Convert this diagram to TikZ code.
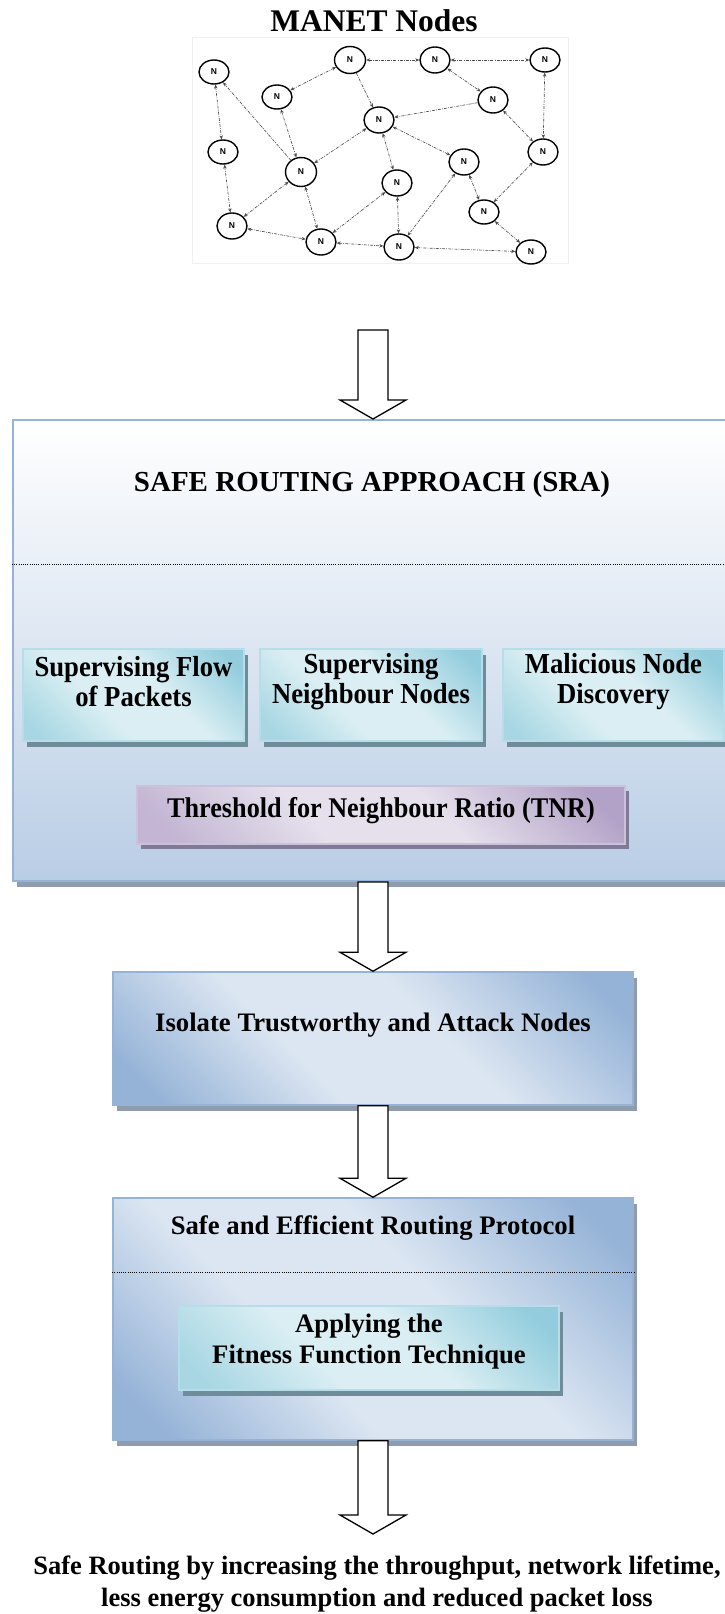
\documentclass[tikz,border=0pt]{standalone}
\usepackage{fontspec}
\setmainfont{Liberation Serif}
\newfontfamily\condserif{Liberation Serif}[FakeStretch=0.92]
\newfontfamily\nsans{Liberation Sans}
\usetikzlibrary{shapes.geometric,arrows.meta,shadows,calc}
\definecolor{sraborder}{HTML}{95B3D7}
\definecolor{srabottom}{HTML}{B9CDE5}
\definecolor{bluedark}{HTML}{95B3D7}
\definecolor{bluelight}{HTML}{DCE6F2}
\definecolor{cyandark}{HTML}{93CDDD}
\definecolor{cyanmid}{HTML}{A8D7E3}
\definecolor{cyanlight}{HTML}{DAEEF3}
\definecolor{cyanborder}{HTML}{B7DEE8}
\definecolor{purpdark}{HTML}{B3A2C7}
\definecolor{purpmid}{HTML}{C3B5D3}
\definecolor{purplight}{HTML}{E5E0EC}
\definecolor{purpborder}{HTML}{CCC1DA}
\definecolor{shadowblue}{HTML}{8E9CAE}
\definecolor{shadowcyan}{HTML}{6F8C9B}
\definecolor{shadowpurp}{HTML}{7F7A96}
\pgfdeclarehorizontalshading{bluediag}{100bp}{color(0bp)=(bluedark); color(20bp)=(bluedark);
  color(40bp)=(bluelight); color(58bp)=(bluelight); color(80bp)=(bluedark); color(100bp)=(bluedark)}
\pgfdeclarehorizontalshading{cyandiag}{100bp}{color(0bp)=(cyanmid); color(20bp)=(cyanmid);
  color(40bp)=(cyanlight); color(58bp)=(cyanlight); color(80bp)=(cyandark); color(100bp)=(cyandark)}
\pgfdeclarehorizontalshading{purpdiag}{100bp}{color(0bp)=(purpmid); color(20bp)=(purpmid);
  color(40bp)=(purplight); color(58bp)=(purplight); color(80bp)=(purpdark); color(100bp)=(purpdark)}
\tikzset{
  mnode/.style={ellipse, draw=black, line width=1.4pt, minimum width=30pt, minimum height=24pt, inner sep=0pt, fill=white,
    font=\nsans\bfseries\fontsize{8.5}{9}\selectfont},
  link/.style={draw=black!70, line width=0.65pt, dash pattern=on 3pt off 1.2pt on 0.8pt off 1.2pt,
    {Stealth[length=4pt,width=3.5pt]}-{Stealth[length=4pt,width=3.5pt]}},
  linkone/.style={draw=black!70, line width=0.65pt, dash pattern=on 3pt off 1.2pt on 0.8pt off 1.2pt,
    -{Stealth[length=4pt,width=3.5pt]}},
  srabox/.style={rectangle, draw=sraborder, line width=2pt, top color=white, bottom color=srabottom,
    drop shadow={shadow xshift=4pt, shadow yshift=-6pt, fill=shadowblue, opacity=1}},
  bluebox/.style={rectangle, draw=sraborder, line width=1.5pt, shading=bluediag, shading angle=45,
    drop shadow={shadow xshift=4pt, shadow yshift=-6pt, fill=shadowblue, opacity=1}},
  cyanbox/.style={rectangle, draw=cyanborder, line width=1.5pt, shading=cyandiag, shading angle=45,
    drop shadow={shadow xshift=4pt, shadow yshift=-6pt, fill=shadowcyan, opacity=1}},
  purpbox/.style={rectangle, draw=purpborder, line width=1.5pt, shading=purpdiag, shading angle=45,
    drop shadow={shadow xshift=4pt, shadow yshift=-5pt, fill=shadowpurp, opacity=1}},
  condtxt/.style={align=center, font=\condserif\bfseries\fontsize{29}{30}\selectfont},
  plaintxt/.style={align=center, font=\bfseries\fontsize{26.7}{31}\selectfont},
  dotline/.style={draw=black, line width=0.9pt, dash pattern=on 0.9pt off 1.3pt},
  blk/.style={draw=black, line width=1.3pt, fill=white, line join=miter},
}
\newcommand\blockarrow[2]{\draw[blk] let \p1=(#1), \p2=(#2) in
  (\x1-15pt,\y1) -- (\x1-15pt,\y2+19pt) -- (\x1-33pt,\y2+19pt) -- (\x1,\y2) --
  (\x1+33pt,\y2+19pt) -- (\x1+15pt,\y2+19pt) -- (\x1+15pt,\y1) -- cycle;}
\begin{document}
\begin{tikzpicture}[x=1pt,y=-1pt]
\useasboundingbox (0,0) rectangle (725,1614);
\clip (0,0) rectangle (725,1614);

% title
\node[font=\bfseries\fontsize{31.5}{33}\selectfont] (title) at (374,21) {MANET Nodes};

% network
\draw[black!6, line width=0.6pt] (192,37) rectangle (568,263);
\node[mnode] (n1) at (214,72) {N};
\node[mnode] (n2) at (277,97) {N};
\node[mnode, minimum height=27pt, minimum width=31pt] (n3) at (350,60) {N};
\node[mnode, minimum height=26pt] (n4) at (435,60) {N};
\node[mnode] (n5) at (545,60) {N};
\node[mnode, minimum height=26pt] (n6) at (493,100) {N};
\node[mnode, minimum height=26pt] (n7) at (379,120) {N};
\node[mnode] (n8) at (223,152) {N};
\node[mnode, minimum width=31pt, minimum height=29pt] (n9) at (301,172) {N};
\node[mnode, minimum height=26pt] (n10) at (397,183) {N};
\node[mnode, minimum height=26pt] (n11) at (464,162) {N};
\node[mnode, minimum height=26pt] (n12) at (543,152) {N};
\node[mnode] (n13) at (484,212) {N};
\node[mnode, minimum height=26pt] (n14) at (232,226) {N};
\node[mnode, minimum height=26pt] (n15) at (321,242) {N};
\node[mnode, minimum height=26pt] (n16) at (399,247) {N};
\node[mnode] (n17) at (531,252) {N};

\draw[link] (n1) -- (n8);
\draw[link] (n8) -- (n14);
\draw[linkone] (n9) -- (n1);
\draw[link] (n2) -- (n3);
\draw[link] (n2) -- (n9);
\draw[linkone] (n3) -- (n7);
\draw[link] (n3) -- (n4);
\draw[link] (n4) -- (n5);
\draw[link] (n4) -- (n6);
\draw[linkone] (n6) -- (n7);
\draw[link] (n5) -- (n12);
\draw[link] (n6) -- (n12);
\draw[link] (n7) -- (n9);
\draw[link] (n7) -- (n10);
\draw[link] (n7) -- (n11);
\draw[link] (n9) -- (n14);
\draw[link] (n14) -- (n15);
\draw[link] (n9) -- (n15);
\draw[link] (n10) -- (n15);
\draw[link] (n10) -- (n16);
\draw[link] (n15) -- (n16);
\draw[link] (n11) -- (n16);
\draw[link] (n11) -- (n13);
\draw[link] (n12) -- (n13);
\draw[link] (n13) -- (n17);
\draw[link] (n16) -- (n17);

% SRA box
\node[srabox, minimum width=732pt, minimum height=461pt] (sra) at (379,650.5) {};
\node[font=\bfseries\fontsize{29}{31}\selectfont] (sratitle) at (372,485) {SAFE ROUTING APPROACH (SRA)};
\draw[dotline] ([yshift=-145pt]sra.north west) -- ([yshift=-145pt]sra.north east);

\node[cyanbox, minimum width=221pt, minimum height=92pt] (sfp) at (133.5,695) {};
\node[condtxt] (sfptxt) at ([yshift=13pt]sfp.center) {Supervising Flow\\of Packets};
\node[cyanbox, minimum width=222pt, minimum height=92pt] (snn) at (371,695) {};
\node[condtxt] (snntxt) at ([yshift=13pt]snn.center) {Supervising\\Neighbour Nodes};
\node[cyanbox, minimum width=221pt, minimum height=92pt] (mnd) at (613.5,695) {};
\node[condtxt] (mndtxt) at ([yshift=13pt]mnd.center) {Malicious Node\\Discovery};

\node[purpbox, minimum width=488pt, minimum height=58pt] (tnr) at (381,815) {};
\node[condtxt, font=\condserif\bfseries\fontsize{28.5}{30}\selectfont] (tnrtxt) at ([yshift=4pt]tnr.center) {Threshold for Neighbour Ratio (TNR)};

% Isolate box
\node[bluebox, minimum width=520pt, minimum height=133pt] (iso) at (373,1038.5) {};
\node[plaintxt] (isotxt) at ([yshift=13pt]iso.center) {Isolate Trustworthy and Attack Nodes};

% Safe and efficient box
\node[bluebox, minimum width=520pt, minimum height=242pt] (sep) at (373,1319) {};
\node[plaintxt] (septxt) at ([yshift=91pt]sep.center) {Safe and Efficient Routing Protocol};
\draw[dotline] ([yshift=47pt]sep.west) -- ([yshift=47pt]sep.east);
\node[cyanbox, minimum width=380pt, minimum height=84pt] (fft) at (369,1348) {};
\node[plaintxt] (ffttxt) at ([yshift=6pt]fft.center) {Applying the\\Fitness Function Technique};

% final text
\node[plaintxt, font=\bfseries\fontsize{26.5}{32}\selectfont] (final) at (377,1584)
  {Safe Routing by increasing the throughput, network lifetime,\\less energy consumption and reduced packet loss};

% block arrows
\coordinate (ax) at (373,0);
\coordinate (a1top) at (373,330);
\coordinate (a4tip) at (373,1534);
\blockarrow{a1top}{ax |- sra.north}
\blockarrow{ax |- sra.south}{ax |- iso.north}
\blockarrow{ax |- iso.south}{ax |- sep.north}
\blockarrow{ax |- sep.south}{a4tip}
\end{tikzpicture}
\end{document}
